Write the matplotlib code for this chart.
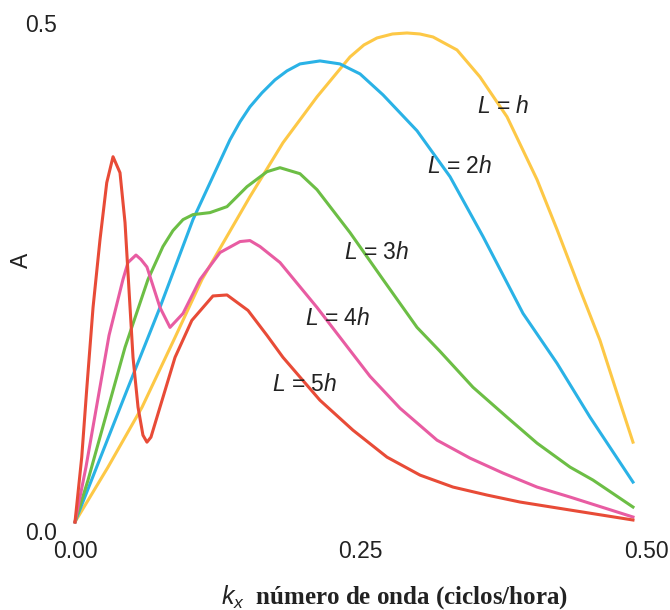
import matplotlib
matplotlib.use("Agg")
import matplotlib.pyplot as plt
import numpy as np

plt.rcParams['font.family'] = ['Liberation Sans', 'DejaVu Sans']
plt.rcParams['mathtext.fontset'] = 'custom'
plt.rcParams['mathtext.it'] = 'Liberation Sans:italic'
plt.rcParams['mathtext.rm'] = 'Liberation Sans'

# curve values (kx, A)
kx_h = [0, 0.0289, 0.0587, 0.0876, 0.1112, 0.1532, 0.1821, 0.2119, 0.2408, 0.2530,
        0.2644, 0.2780, 0.2907, 0.3020, 0.3135, 0.3345, 0.3546, 0.3783, 0.4046,
        0.4221, 0.4422, 0.4597, 0.4772, 0.4886]
a_h = [0, 0.055, 0.115, 0.185, 0.243, 0.326, 0.380, 0.426, 0.466, 0.478,
       0.485, 0.489, 0.490, 0.489, 0.486, 0.473, 0.446, 0.406, 0.343,
       0.293, 0.233, 0.182, 0.120, 0.080]

kx_2h = [0, 0.0455, 0.0744, 0.1033, 0.1357, 0.1445, 0.1532, 0.1637, 0.1751, 0.1856,
         0.1970, 0.2145, 0.2320, 0.2496, 0.2697, 0.2995, 0.3284, 0.3573, 0.3923,
         0.4221, 0.4510, 0.4886]
a_2h = [0, 0.132, 0.215, 0.303, 0.383, 0.401, 0.416, 0.430, 0.443, 0.452,
        0.459, 0.462, 0.459, 0.449, 0.428, 0.392, 0.346, 0.286, 0.209,
        0.159, 0.105, 0.040]

kx_3h = [0, 0.0114, 0.0438, 0.0639, 0.0770, 0.0858, 0.0946, 0.1033, 0.1182, 0.1331,
         0.1506, 0.1681, 0.1795, 0.1970, 0.2119, 0.2408, 0.2697, 0.2995, 0.3196,
         0.3485, 0.3783, 0.4046, 0.4335, 0.4536, 0.4886]
a_3h = [0, 0.042, 0.175, 0.243, 0.276, 0.292, 0.303, 0.308, 0.310, 0.316,
        0.336, 0.351, 0.355, 0.349, 0.333, 0.290, 0.243, 0.195, 0.171,
        0.135, 0.105, 0.079, 0.055, 0.042, 0.015]

kx_4h = [0, 0.0096, 0.0298, 0.0420, 0.0464, 0.0534, 0.0578, 0.0630, 0.0744, 0.0832,
         0.0946, 0.1095, 0.1270, 0.1445, 0.1532, 0.1620, 0.1795, 0.2119, 0.2408,
         0.2583, 0.2846, 0.3170, 0.3459, 0.3748, 0.4046, 0.4335, 0.4886]
a_4h = [0, 0.055, 0.187, 0.243, 0.260, 0.2675, 0.263, 0.2555, 0.215, 0.195,
        0.209, 0.243, 0.270, 0.281, 0.282, 0.276, 0.260, 0.215, 0.172,
        0.146, 0.114, 0.082, 0.064, 0.049, 0.035, 0.025, 0.005]

kx_5h = [0, 0.0059, 0.0102, 0.0158, 0.0219, 0.0278, 0.0333, 0.0394, 0.0438, 0.0482,
         0.0508, 0.0552, 0.0595, 0.0630, 0.0665, 0.0744, 0.0876, 0.1023, 0.1208,
         0.1331, 0.1515, 0.1681, 0.1821, 0.2145, 0.2434, 0.2732, 0.3021, 0.3310,
         0.3608, 0.3897, 0.4335, 0.4886]
a_5h = [0, 0.065, 0.132, 0.215, 0.283, 0.340, 0.366, 0.350, 0.300, 0.215,
        0.165, 0.115, 0.087, 0.080, 0.085, 0.115, 0.165, 0.202, 0.2265,
        0.2275, 0.212, 0.187, 0.165, 0.122, 0.092, 0.065, 0.047, 0.035,
        0.027, 0.020, 0.012, 0.002]

series = [(kx_h, a_h), (kx_2h, a_2h), (kx_3h, a_3h), (kx_4h, a_4h), (kx_5h, a_5h)]
labels = [r"$L$ = $h$", r"$L$ = 2$h$", r"$L$ = 3$h$", r"$L$ = 4$h$", r"$L$ = 5$h$"]
colors = ['#FDC846', '#2AB2E6', '#6CBE45', '#E85CA2', '#E84B37']
label_pos = [(0.3748, 0.416), (0.3371, 0.356), (0.2644, 0.270), (0.2303, 0.204), (0.2014, 0.138)]

fig = plt.figure(figsize=(6.7, 6.1), dpi=100)
ax = fig.add_axes([75 / 670, 88 / 610, 571 / 670, 499 / 610])

for (x, y), c in zip(series, colors):
    ax.plot(x, y, color=c, lw=2.2, solid_joinstyle='round', clip_on=False)

for lab, (tx, ty) in zip(labels, label_pos):
    ax.text(tx, ty, lab, fontsize=16.5, ha='center', va='center', color='#222222')

ax.set_xlim(0, 0.5)
ax.set_ylim(0, 0.5)
ax.set_xticks([0, 0.25, 0.5])
ax.set_xticklabels(['0.00', '0.25', '0.50'])
ax.set_yticks([0, 0.5])
ax.set_yticklabels(['0.0', '0.5'])
ax.tick_params(length=0, labelsize=16.5, labelcolor='#222222')
ax.tick_params(axis='x', pad=13)
ax.tick_params(axis='y', pad=13)
ax.get_yticklabels()[0].set_verticalalignment('top')
for s in ax.spines.values():
    s.set_visible(False)

ax.set_ylabel('A', fontsize=16.5, color='#222222')
ax.yaxis.set_label_coords(-0.074, 0.525)
ax.set_xlabel(r"$k_x$  número de onda (ciclos/hora)", fontsize=18,
              family='Liberation Serif', weight='bold', color='#222222')
ax.xaxis.set_label_coords(0.560, -0.122)

plt.savefig("out.png", dpi=100)
